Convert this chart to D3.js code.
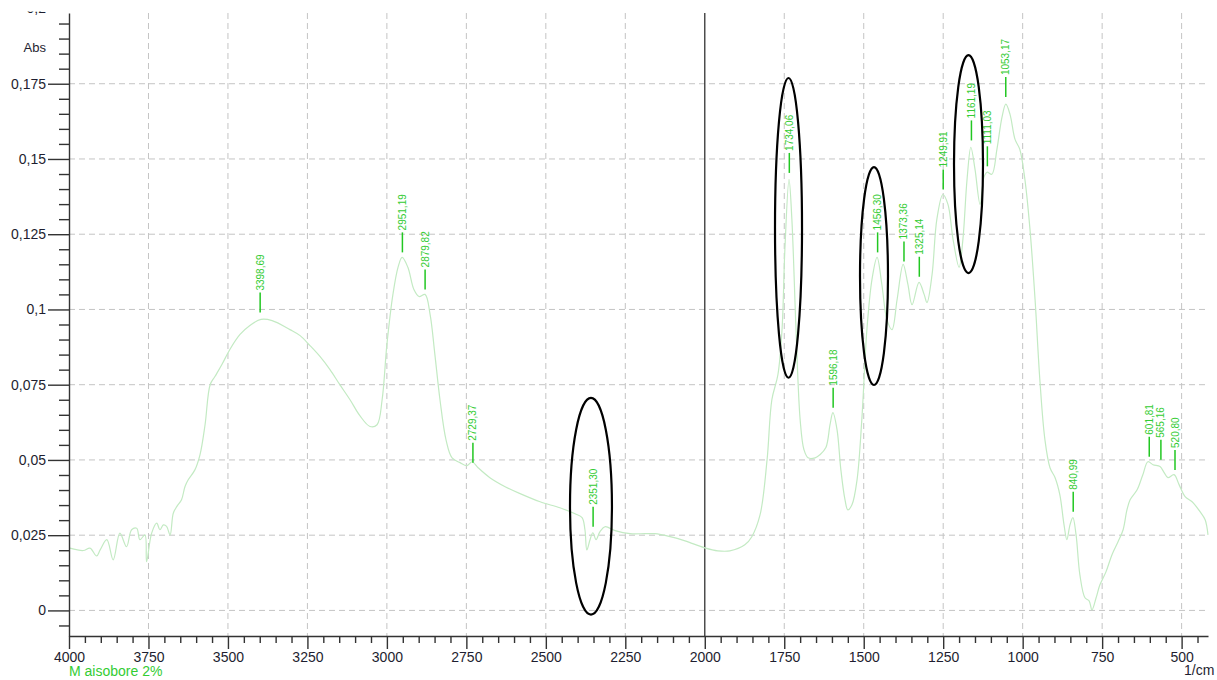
<!DOCTYPE html>
<html>
<head>
<meta charset="utf-8">
<script src="https://cdn.jsdelivr.net/npm/d3@7/dist/d3.min.js"></script>
<style>
  html, body { margin: 0; padding: 0; background: #fff; }
  svg { display: block; font-family: "Liberation Sans", Arial, sans-serif; }
</style>
</head>
<body>
<svg id="chart" width="1217" height="680"></svg>
<script>
// ---- data ----
const wavenumbers = [3997,3955,3934,3913,3902,3881,3861,3840,3819,3803,3787,3777,3761,3756,3740,3724,3714,3703,3693,3682,3672,3661,3646,3635,3625,3604,3588,3572,3556,3541,3519,3494,3462,3431,3396,3361,3305,3273,3242,3210,3179,3148,3116,3085,3053,3031,3015,3000,2981,2965,2952,2934,2915,2899,2880,2864,2849,2833,2814,2795,2770,2748,2732,2713,2676,2628,2581,2518,2456,2408,2386,2377,2371,2361,2352,2342,2330,2314,2282,2235,2188,2157,2109,2062,2000,1959,1921,1874,1852,1826,1804,1789,1770,1757,1748,1735,1726,1713,1700,1688,1675,1653,1638,1619,1606,1597,1584,1572,1559,1550,1537,1521,1506,1490,1474,1458,1443,1427,1411,1395,1376,1361,1348,1326,1310,1301,1285,1270,1251,1235,1219,1200,1188,1175,1163,1150,1134,1122,1112,1097,1081,1065,1053,1040,1024,1009,993,977,961,946,930,914,898,883,870,861,851,842,832,820,804,791,782,769,757,738,719,700,684,672,662,640,622,606,590,568,555,543,524,508,489,467,442,426,417];
const absorbance = [0.0207,0.0199,0.0207,0.0181,0.0201,0.0235,0.0168,0.0257,0.0212,0.0268,0.0273,0.0235,0.0251,0.0162,0.0257,0.0290,0.0268,0.0284,0.0279,0.0251,0.0323,0.0345,0.0368,0.0412,0.0434,0.0467,0.0517,0.0617,0.0750,0.0777,0.0817,0.0867,0.0917,0.0947,0.0967,0.0963,0.0933,0.0913,0.0880,0.0843,0.0800,0.0750,0.0700,0.0647,0.0611,0.0617,0.0700,0.0883,0.1050,0.1140,0.1173,0.1140,0.1066,0.1043,0.1050,0.0983,0.0850,0.0700,0.0567,0.0507,0.0491,0.0481,0.0494,0.0474,0.0441,0.0411,0.0388,0.0361,0.0341,0.0321,0.0308,0.0268,0.0201,0.0235,0.0258,0.0235,0.0261,0.0278,0.0265,0.0255,0.0255,0.0255,0.0245,0.0231,0.0208,0.0198,0.0198,0.0218,0.0245,0.0318,0.0501,0.0700,0.0783,0.0933,0.1200,0.1432,0.1299,0.0933,0.0634,0.0534,0.0507,0.0507,0.0517,0.0541,0.0617,0.0657,0.0601,0.0468,0.0368,0.0334,0.0351,0.0434,0.0634,0.0933,0.1100,0.1173,0.1083,0.0966,0.0933,0.1033,0.1150,0.1083,0.1016,0.1090,0.1050,0.1023,0.1116,0.1299,0.1382,0.1349,0.1233,0.1140,0.1233,0.1432,0.1539,0.1466,0.1349,0.1439,0.1456,0.1449,0.1532,0.1639,0.1682,0.1649,0.1565,0.1532,0.1432,0.1266,0.1033,0.0767,0.0567,0.0474,0.0441,0.0384,0.0285,0.0235,0.0285,0.0308,0.0251,0.0118,0.0042,0.0032,0.0002,0.0042,0.0085,0.0128,0.0185,0.0228,0.0268,0.0334,0.0368,0.0401,0.0451,0.0494,0.0484,0.0478,0.0458,0.0441,0.0451,0.0418,0.0378,0.0361,0.0328,0.0301,0.0251];

const peakLabels = ["3398,69","2951,19","2879,82","2729,37","2351,30","1734,06","1596,18","1456,30","1373,36","1325,14","1249,91","1161,19","1111,03","1053,17","840,99","601,81","565,16","520,80"];
const peakWavenumbers = [3398.69,2951.19,2879.82,2729.37,2351.30,1734.06,1596.18,1456.30,1373.36,1325.14,1249.91,1161.19,1111.03,1053.17,840.99,601.81,565.16,520.80];
const peakAbsorbance = [0.0973,0.1173,0.1050,0.0474,0.0261,0.1437,0.0657,0.1173,0.1143,0.1092,0.1382,0.1545,0.1459,0.1689,0.0311,0.0494,0.0484,0.0450];

const xTicks = [4000,3750,3500,3250,3000,2750,2500,2250,2000,1750,1500,1250,1000,750,500];
const yTicks = [0,0.025,0.05,0.075,0.1,0.125,0.15,0.175];

// annotation ellipses: centre wavenumber, centre absorbance, half-width (cm-1), half-height (Abs)
const ellipseWavenumber = [2358,1736.6,1467.7,1170.4];
const ellipseAbsorbance = [0.0346,0.1271,0.1111,0.1483];
const ellipseHalfWidth = [66,42.5,44,45.6];
const ellipseHalfHeight = [0.0360,0.0498,0.0362,0.0362];

const seriesName = "M aisobore 2%";
const yTitle = "Abs";
const xTitle = "1/cm";

// ---- chart ----
const svg = d3.select("#chart");
const x = d3.scaleLinear().domain([4000, 417]).range([69, 1208]);
const y = d3.scaleLinear().domain([-0.0085, 0.1985]).range([636, 13]);
const fmt = d => d === 0 ? "0" : d3.format(".3~f")(d).replace(".", ",");

const gridColor = "#c4c4c4";
// horizontal grid
svg.append("g").selectAll("line").data(yTicks).join("line")
  .attr("x1", x.range()[0]).attr("x2", x.range()[1])
  .attr("y1", d => y(d)).attr("y2", d => y(d))
  .attr("stroke", gridColor).attr("stroke-width", 1).attr("stroke-dasharray", "6,4");
// vertical grid
svg.append("g").selectAll("line").data(xTicks.filter(d => d !== 4000 && d !== 2000)).join("line")
  .attr("x1", d => x(d)).attr("x2", d => x(d))
  .attr("y1", y.range()[1]).attr("y2", y.range()[0])
  .attr("stroke", gridColor).attr("stroke-width", 1).attr("stroke-dasharray", "6,4");
// solid separator at 2000
svg.append("line")
  .attr("x1", x(2000)).attr("x2", x(2000))
  .attr("y1", y.range()[1]).attr("y2", y.range()[0])
  .attr("stroke", "#333").attr("stroke-width", 1.3);

// spectrum
const pts = wavenumbers.map((w, i) => [w, absorbance[i]]);
svg.append("path").datum(pts)
  .attr("fill", "none").attr("stroke", "#c3eac3").attr("stroke-width", 1.2)
  .attr("d", d3.line().x(d => x(d[0])).y(d => y(d[1])).curve(d3.curveCatmullRom.alpha(0.5)));

// peak markers
const peaks = peakLabels.map((t, i) => ({t, w: peakWavenumbers[i], v: peakAbsorbance[i]}));
const pg = svg.append("g");
pg.selectAll("line").data(peaks).join("line")
  .attr("x1", d => x(d.w)).attr("x2", d => x(d.w))
  .attr("y1", d => y(d.v) - 5).attr("y2", d => y(d.v) - 25)
  .attr("stroke", "#22c722").attr("stroke-width", 1.5);
pg.selectAll("text").data(peaks).join("text")
  .attr("transform", d => `translate(${x(d.w)},${y(d.v) - 27}) rotate(-90)`)
  .attr("dy", "0.35em")
  .attr("font-size", 10)
  .attr("fill", "#33cc33")
  .text(d => d.t);

// ellipses
svg.append("g").selectAll("ellipse").data(ellipseWavenumber).join("ellipse")
  .attr("cx", d => x(d))
  .attr("cy", (d, i) => y(ellipseAbsorbance[i]))
  .attr("rx", (d, i) => Math.abs(x(d + ellipseHalfWidth[i]) - x(d)))
  .attr("ry", (d, i) => Math.abs(y(ellipseHalfHeight[i]) - y(0)))
  .attr("fill", "none").attr("stroke", "#000").attr("stroke-width", 2.2);

// axes
const axisColor = "#333";
const textColor = "#1e1e30";
const yMinor = d3.range(-0.005, 0.2, 0.005).filter(v => Math.abs(Math.round(v / 0.025) * 0.025 - v) > 1e-6 && v > -0.0085 && v < 0.1985);
const xMinor = d3.range(4000, 416, -50).filter(v => v % 250 !== 0);

const gy = svg.append("g").attr("transform", `translate(${x.range()[0]},0)`);
gy.call(d3.axisLeft(y).tickValues(yMinor).tickSize(10).tickSizeOuter(0).tickFormat(""));
gy.call(g => g.select(".domain").remove());
const gy2 = svg.append("g").attr("transform", `translate(${x.range()[0]},0)`);
gy2.call(d3.axisLeft(y).tickValues(yTicks).tickSize(21).tickPadding(2).tickSizeOuter(0).tickFormat(fmt));

const gx = svg.append("g").attr("transform", `translate(0,${y.range()[0]})`);
gx.call(d3.axisBottom(x).tickValues(xMinor).tickSize(7).tickSizeOuter(0).tickFormat(""));
gx.call(g => g.select(".domain").remove());
const gx2 = svg.append("g").attr("transform", `translate(0,${y.range()[0]})`);
gx2.call(d3.axisBottom(x).tickValues(xTicks).tickSize(13).tickPadding(3).tickSizeOuter(0).tickFormat(d => d));

svg.selectAll(".domain, .tick line").attr("stroke", axisColor).attr("stroke-width", 1.4);
svg.selectAll(".tick text").attr("font-size", 14).attr("fill", textColor)
  .attr("font-family", "'Liberation Sans', Arial, sans-serif");

// clipped top label (0,2)
svg.append("clipPath").attr("id", "topclip").append("rect")
  .attr("x", 0).attr("y", 11.5).attr("width", 68).attr("height", 20);
svg.append("text").attr("clip-path", "url(#topclip)")
  .attr("x", 46).attr("y", y(0.2)).attr("dy", "0.32em")
  .attr("text-anchor", "end").attr("font-size", 14).attr("fill", textColor)
  .text(fmt(0.2));

// titles
svg.append("text").attr("x", 46).attr("y", 52).attr("text-anchor", "end")
  .attr("font-size", 13).attr("fill", textColor).text(yTitle);
svg.append("text").attr("x", 1184).attr("y", 675)
  .attr("font-size", 14).attr("fill", textColor).text(xTitle);
svg.append("text").attr("x", 69).attr("y", 676)
  .attr("font-size", 14).attr("fill", "#33cc33").text(seriesName);
</script>
</body>
</html>
